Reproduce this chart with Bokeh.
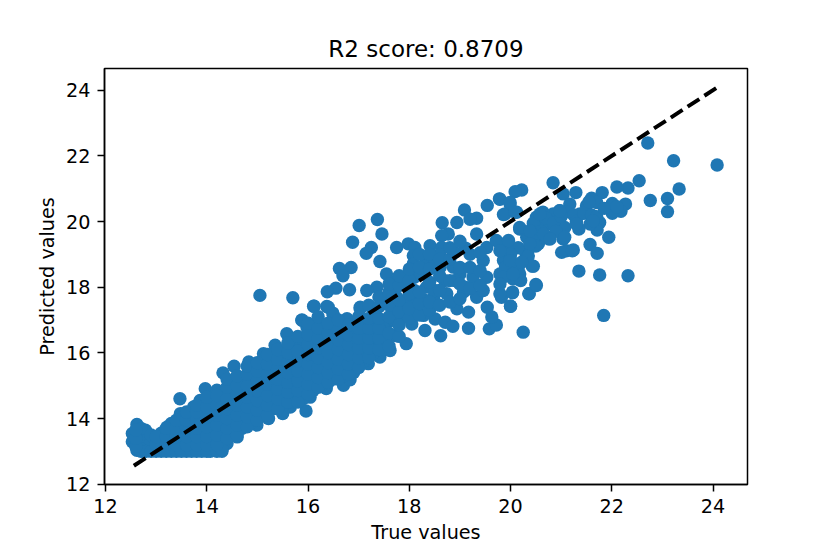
from bokeh.plotting import figure
from bokeh.models import FixedTicker, Range1d
from bokeh.embed import file_html
from bokeh.resources import INLINE

title_text = "R2 score: 0.8709"
x_label = "True values"
y_label = "Predicted values"
x_ticks = [12, 14, 16, 18, 20, 22, 24]
y_ticks = [12, 14, 16, 18, 20, 22, 24]
ref_line = [12.56, 24.1]

# sparse upper-right points
x_right = [24.08,23.33,23.22,22.71,22.76,23.10,23.10,22.54,22.32,22.10,22.32,21.84,21.76,21.35,21.94,21.71,21.57,20.84,20.25,20.00,20.36,20.50,20.04,20.45,20.22,20.09,21.29,21.04,21.81,21.60,22.01,22.27,22.18,22.01,21.70,21.50,21.37,21.17,20.97,20.84,20.64,20.51,20.58,20.78,21.76,21.71,21.57,21.35,21.07,21.04,21.10,21.01,21.24,20.76,20.55,20.38,20.32,20.18,20.28,20.05,20.18,19.99,19.86,19.79,19.95,19.79,20.09,19.82,19.99,19.79,19.89,20.12]
y_right = [21.72,20.99,21.85,22.39,20.64,20.70,20.30,21.24,21.02,21.05,18.35,17.14,18.37,18.49,19.52,19.03,19.30,21.18,16.63,17.42,17.80,18.08,17.85,18.64,20.96,20.91,20.88,20.84,20.88,20.71,20.55,20.53,20.31,20.25,20.58,20.48,20.23,20.53,20.33,20.23,20.28,20.13,19.92,19.92,19.97,19.74,19.92,19.77,19.82,19.47,19.11,19.06,19.13,19.47,19.32,19.21,19.52,19.77,18.81,18.71,18.40,18.91,18.81,18.40,19.37,19.32,18.40,17.69,20.53,20.68,20.23,20.28]

# extra points in the clusters right of x=20
x_cluster = [20.45,20.6,20.7,20.45,20.7,20.85,20.5,20.9,21.0,21.1,21.25,21.3,21.45,21.6,21.7,21.55,21.85,22.1,20.3,20.15,20.35,19.95,20.0,19.9,20.15,20.05,19.85,20.2]
y_cluster = [19.95,19.7,19.55,19.5,20.1,19.95,19.25,19.7,20.15,20.3,20.2,20.0,20.25,20.2,20.15,20.6,20.4,20.45,19.05,19.2,18.95,19.1,19.0,18.6,18.6,18.25,18.3,18.2]

# middle region
x_mid = [19.78,19.54,19.99,19.86,20.09,19.09,19.33,19.20,18.94,18.65,18.77,18.64,19.33,17.37,17.01,17.46,16.88,17.25,17.15,17.42,16.85,16.62,16.69,16.55,16.38,16.82,16.12,16.37,16.49,19.17,18.62,18.31,17.94,19.58,19.72,19.63,19.54,20.00,20.04,19.79,20.37,20.51,20.43,17.75,17.98,18.11,18.41,18.64,18.08,18.34,18.02,18.08,18.90,19.11,19.53,19.72,19.96,19.79,19.46,19.99,20.22,20.18,20.38,20.38,20.58,20.65,20.78,20.97,21.30,21.22,21.07,21.63,18.61,18.87,19.00,19.26,19.07,19.33,19.46,19.53,19.79,20.05,18.94,19.17,18.51,18.71,18.86,18.05,18.28,18.74,18.48,18.34,18.08,17.75,17.55,17.75,17.36,17.16,17.03,17.29,17.55,17.88,17.62,17.72,17.49,16.77,16.24,15.98,15.88,16.50,16.83,17.16,16.11]
y_mid = [20.69,20.49,20.58,20.21,20.28,20.35,20.10,20.07,19.97,19.96,19.62,19.57,19.62,20.06,19.88,19.62,19.37,19.21,19.03,18.78,18.60,18.57,18.35,17.97,17.86,17.92,17.42,17.41,17.21,16.75,16.52,16.68,16.28,16.73,16.85,17.09,17.39,17.42,17.83,17.80,17.80,18.05,18.64,19.21,19.32,19.21,19.26,19.21,18.96,18.78,18.45,18.71,19.06,19.19,19.21,19.42,19.42,19.11,18.81,18.81,18.76,19.82,19.72,19.32,20.23,19.62,19.47,20.33,19.92,19.11,19.52,20.02,18.61,18.61,18.40,18.30,17.85,17.69,17.90,18.30,18.10,18.40,17.34,17.24,17.03,16.93,16.81,16.88,17.14,17.80,17.69,18.00,17.69,17.69,18.40,18.20,18.00,17.90,17.39,17.29,17.59,17.39,16.98,16.53,16.38,16.98,16.88,16.78,17.00,16.68,16.48,16.68,16.48]

# lower-left envelope
x_edge = [12.62,12.53,12.53,12.62,12.79,12.95,13.22,13.35,13.47,13.48,13.74,13.87,13.97,14.20,14.37,14.32,14.54,14.83,15.12,15.35,15.58,15.88,16.11,16.40,16.50,16.77,17.03,15.05,15.70,12.76,13.00,13.30,13.60,13.90,14.07,14.30,14.40,14.60,14.99,15.22,15.50,15.96,15.65,16.04,16.36,16.70,16.83,17.19,17.42,17.62]
y_edge = [13.82,13.54,13.29,13.03,13.64,13.44,13.74,13.74,14.60,14.15,14.35,14.55,14.91,14.86,14.86,15.39,15.59,15.72,15.97,16.23,16.58,16.99,17.42,17.39,17.14,17.04,17.34,17.75,17.68,13.00,13.00,13.00,13.00,13.00,13.00,13.00,13.24,13.44,13.80,14.00,14.15,14.23,14.35,14.65,14.91,15.01,15.18,15.67,15.87,16.07]

# dense band, read column by column
x_dense = [12.7,12.7,12.7,12.9,12.9,12.9,13.1,13.1,13.1,13.3,13.3,13.3,13.3,13.5,13.5,13.5,13.5,13.5,13.7,13.7,13.7,13.7,13.7,13.9,13.9,13.9,13.9,13.9,14.1,14.1,14.1,14.1,14.1,14.1,14.3,14.3,14.3,14.3,14.3,14.3,14.5,14.5,14.5,14.5,14.5,14.7,14.7,14.7,14.7,14.7,14.7,14.9,14.9,14.9,14.9,14.9,15.1,15.1,15.1,15.1,15.1,15.1,15.3,15.3,15.3,15.3,15.3,15.3,15.5,15.5,15.5,15.5,15.5,15.5,15.7,15.7,15.7,15.7,15.7,15.7,15.7,15.9,15.9,15.9,15.9,15.9,15.9,15.9,16.1,16.1,16.1,16.1,16.1,16.1,16.1,16.3,16.3,16.3,16.3,16.3,16.3,16.5,16.5,16.5,16.5,16.5,16.5,16.7,16.7,16.7,16.7,16.7,16.7,16.9,16.9,16.9,16.9,16.9,16.9,17.1,17.1,17.1,17.1,17.1,17.3,17.3,17.3,17.3,17.3,17.5,17.5,17.5,17.7,17.7,17.7,17.9,17.9,17.9,18.1,18.1,18.1,18.3,18.3,18.5,18.5,18.7,18.2,18.9,18.6,19.1]
y_dense = [13.2,13.45,13.7,13.1,13.3,13.5,13.1,13.3,13.55,13.1,13.35,13.6,13.85,13.1,13.3,13.55,13.8,14.0,13.1,13.35,13.6,13.85,14.1,13.1,13.35,13.6,13.9,14.2,13.1,13.35,13.65,13.95,14.25,14.55,13.1,13.35,13.7,14.0,14.3,14.6,13.6,13.9,14.2,14.5,14.85,13.7,14.0,14.3,14.6,14.9,15.2,13.9,14.2,14.5,14.85,15.2,14.1,14.4,14.7,15.0,15.3,15.6,14.3,14.6,14.9,15.2,15.5,15.8,14.4,14.7,15.0,15.3,15.6,15.9,14.5,14.8,15.1,15.4,15.7,16.0,16.2,14.6,14.9,15.2,15.5,15.8,16.1,16.4,14.85,15.15,15.45,15.75,16.05,16.35,16.65,15.05,15.35,15.65,15.95,16.25,16.55,15.2,15.5,15.8,16.1,16.4,16.7,15.3,15.6,15.9,16.2,16.5,16.8,15.4,15.7,16.0,16.3,16.6,16.9,15.75,16.05,16.35,16.65,16.95,16.0,16.3,16.6,16.9,17.2,16.3,16.9,17.5,17.0,17.3,17.95,17.1,17.5,18.15,17.3,17.9,18.3,17.6,18.4,17.9,18.7,18.2,18.5,18.2,19.0,18.0]

# second pass over the dense band: one x per column, its y values beside it
fill_x = [12.6,13.0,13.2,13.4,13.6,13.8,14.0,14.2,14.4,14.6,14.8,15.0,15.2,15.4,15.6,15.8,16.0,16.2,16.4,16.6,16.8,17.0,17.2,17.4,17.6,17.8,18.0,18.2,18.4,18.6,18.8,19.0,19.2,19.4]
fill_y = [
    [13.15,13.4,13.65],[13.2,13.45],[13.2,13.45,13.7],[13.2,13.45,13.7,13.95],
    [13.2,13.45,13.7,13.95,14.2],[13.2,13.45,13.7,13.95,14.2,14.4],
    [13.2,13.45,13.75,14.05,14.35,14.65],[13.2,13.5,13.8,14.1,14.4,14.7],
    [13.4,13.7,14.0,14.3,14.6,14.95,15.2],[13.5,13.8,14.1,14.4,14.7,15.0,15.3],
    [13.75,14.05,14.35,14.65,15.0,15.35,15.6],[13.95,14.25,14.55,14.85,15.15,15.45,15.7],
    [14.1,14.4,14.7,15.05,15.35,15.65,15.95],[14.3,14.6,14.9,15.2,15.5,15.8,16.1],
    [14.5,14.8,15.1,15.4,15.7,16.0,16.3],[14.5,14.85,15.15,15.45,15.75,16.05,16.5],
    [14.75,15.05,15.35,15.65,15.95,16.25,16.55,16.9],[14.95,15.25,15.55,15.85,16.15,16.45,16.75,17.1],
    [15.1,15.4,15.7,16.0,16.3,16.6,16.9],[15.2,15.5,15.8,16.1,16.4,16.7,17.0],
    [15.35,15.65,15.95,16.25,16.55,16.85],[15.55,15.85,16.15,16.45,16.75,17.1],
    [15.85,16.15,16.45,16.75,17.05,17.45],[16.1,16.45,16.75,17.05,17.4,17.7],
    [16.2,16.6,17.1,17.45,17.85,18.1],[16.5,16.85,17.25,17.6,18.05,18.35],
    [17.05,17.35,17.8,18.2,18.55],[17.15,17.5,17.85,18.6,19.0],[17.3,17.55,18.15,18.55,19.0],
    [17.45,17.9,18.35,18.85],[17.55,18.2,18.85,19.2],[17.65,18.1,18.6,19.4],[17.95,18.6,19.0],
    [18.05,18.5,19.05],
]
# flat lower edge of the cloud
x_floor = [12.7,12.8,12.9,13.1,13.2,13.4,13.5,13.7,13.8,14.0,14.2,14.3]
y_floor = [13.0,13.0,13.0,13.0,13.0,13.0,13.0,13.0,13.0,13.0,13.0,13.05]

xs = x_right + x_cluster + x_mid + x_edge + x_dense + x_floor
ys = y_right + y_cluster + y_mid + y_edge + y_dense + y_floor
for fx, col in zip(fill_x, fill_y):
    xs = xs + [fx] * len(col)
    ys = ys + col

p = figure(width=822, height=546, output_backend="svg", toolbar_location=None,
           x_range=Range1d(11.98, 24.68), y_range=Range1d(11.99, 24.66),
           min_border_left=104, min_border_right=75, min_border_top=68, min_border_bottom=62)

p.scatter(xs, ys, size=13.4, color="#1f77b4", line_color=None, marker="circle")
p.line(ref_line, ref_line, line_color="black", line_width=4, line_dash="14 6")

p.title.text = title_text
p.title.align = "center"
p.title.text_font = "DejaVu Sans"
p.title.text_font_size = "23px"
p.title.text_font_style = "normal"
p.title.text_color = "black"
p.title.offset = 0
p.title.standoff = 14

p.grid.visible = False
p.outline_line_color = "black"
p.outline_line_width = 1.5

for ax, lab, ticks in ((p.xaxis[0], x_label, x_ticks), (p.yaxis[0], y_label, y_ticks)):
    ax.axis_label = lab
    ax.ticker = FixedTicker(ticks=ticks)
    ax.axis_label_text_font = "DejaVu Sans"
    ax.axis_label_text_font_size = "19.2px"
    ax.axis_label_text_font_style = "normal"
    ax.axis_label_text_color = "black"
    ax.major_label_text_font = "DejaVu Sans"
    ax.major_label_text_font_size = "19.2px"
    ax.major_label_text_color = "black"
    ax.major_label_standoff = 7
    ax.major_tick_in = 0
    ax.major_tick_out = 7
    ax.major_tick_line_width = 1.5
    ax.major_tick_line_color = "black"
    ax.minor_tick_line_color = None
    ax.axis_line_width = 1.5
    ax.axis_line_color = "black"
p.xaxis[0].axis_label_standoff = 5
p.yaxis[0].axis_label_standoff = 4
p.yaxis[0].major_label_orientation = "horizontal"

open("out.html", "w").write(file_html(p, INLINE))
